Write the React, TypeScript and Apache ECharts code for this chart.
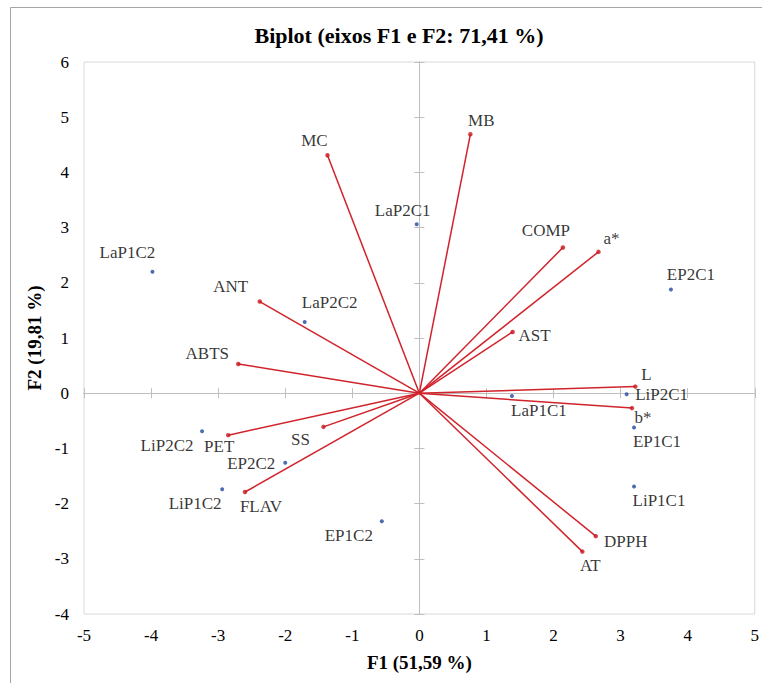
import React, { useEffect, useRef } from "react";
import * as echarts from "echarts";

// Observations (blue points)
const obsNames = ["LaP1C2", "LaP2C2", "LaP2C1", "EP2C1", "LaP1C1", "LiP2C1", "EP1C1", "LiP1C1", "LiP2C2", "EP2C2", "LiP1C2", "EP1C2"];
const obsF1 = [-3.98, -1.71, -0.04, 3.75, 1.38, 3.09, 3.2, 3.2, -3.24, -2.0, -2.94, -0.56];
const obsF2 = [2.2, 1.29, 3.06, 1.88, -0.05, -0.02, -0.62, -1.69, -0.69, -1.26, -1.74, -2.32];

// Variables (red vectors)
const varNames = ["MC", "ANT", "MB", "COMP", "a*", "AST", "ABTS", "PET", "SS", "FLAV", "L", "b*", "DPPH", "AT"];
const varF1 = [-1.37, -2.38, 0.76, 2.14, 2.67, 1.39, -2.7, -2.85, -1.43, -2.6, 3.22, 3.17, 2.63, 2.43];
const varF2 = [4.31, 1.66, 4.69, 2.64, 2.56, 1.11, 0.53, -0.76, -0.61, -1.79, 0.12, -0.27, -2.59, -2.87];

// Axis settings
const xMin = -5, xMax = 5, yMin = -4, yMax = 6, tickStep = 1;

// Label offsets (pixels) relative to each point
const obsLabelOffsets: number[][] = [
  [-25, -19], [25, -19], [-14, -14], [20, -15], [27, 15], [35, 0],
  [23, 14], [25, 14], [-35, 14], [-34, 1], [-27, 14], [-33, 14],
];
const varLabelOffsets: number[][] = [
  [-13, -15], [-29, -15], [11, -14], [-17, -17], [13, -13], [22, 4],
  [-31, -10], [-9, 11], [-23, 13], [16, 14], [11, -12], [11, 9], [30, 5], [8, 14],
];

const SERIF = "Liberation Serif";

export default function App() {
  const ref = useRef<HTMLDivElement>(null);
  useEffect(() => {
    if (!ref.current) return;
    const chart = echarts.init(ref.current, null, { renderer: "svg" });
    const zeroColor = "#bfbfbf";
    const baseAxis = { type: "value", min: xMin, max: xMax, interval: tickStep };
    const baseYAxis = { type: "value", min: yMin, max: yMax, interval: tickStep };
    const zeroAxisX = (inside: boolean) => ({
      ...baseAxis,
      position: "bottom",
      axisLine: { show: true, onZero: true, lineStyle: { color: zeroColor, width: 1 } },
      axisTick: { show: true, inside, length: 5, lineStyle: { color: zeroColor } },
      axisLabel: { show: false },
      splitLine: { show: false },
    });
    const zeroAxisY = (inside: boolean) => ({
      ...baseYAxis,
      position: "left",
      axisLine: { show: true, onZero: true, lineStyle: { color: zeroColor, width: 1 } },
      axisTick: { show: true, inside, length: 5, lineStyle: { color: zeroColor } },
      axisLabel: { show: false },
      splitLine: { show: false },
    });
    const labelStyle = {
      show: true,
      position: "inside",
      formatter: "{b}",
      fontFamily: SERIF,
      fontSize: 17,
      color: "#000",
      align: "center",
      verticalAlign: "middle",
    };
    const option: any = {
      animation: false,
      backgroundColor: "#ffffff",
      title: {
        text: "Biplot (eixos F1 e F2: 71,41 %)",
        left: 394,
        textAlign: "center",
        top: 19,
        textStyle: { fontFamily: SERIF, fontWeight: "bold", fontSize: 22, color: "#000" },
      },
      graphic: [
        {
          type: "rect",
          shape: { x: 10.5, y: 7.5, width: 1000, height: 1000 },
          style: { fill: "none", stroke: "#a6a6a6", lineWidth: 1 },
          silent: true,
        },
      ],
      grid: {
        left: 84,
        right: 5,
        top: 62,
        bottom: 69,
        show: true,
        borderColor: "#d9d9d9",
        borderWidth: 1,
        containLabel: false,
      },
      xAxis: [
        {
          ...baseAxis,
          position: "bottom",
          axisLine: { show: false, onZero: false },
          axisTick: { show: false },
          splitLine: { show: false },
          axisLabel: { margin: 13, fontFamily: SERIF, fontSize: 17, color: "#000" },
          name: "F1 (51,59 %)",
          nameLocation: "middle",
          nameGap: 39,
          nameTextStyle: { fontFamily: SERIF, fontWeight: "bold", fontSize: 19, color: "#000" },
        },
        zeroAxisX(true),
        zeroAxisX(false),
      ],
      yAxis: [
        {
          ...baseYAxis,
          position: "left",
          axisLine: { show: false, onZero: false },
          axisTick: { show: false },
          splitLine: { show: false },
          axisLabel: { margin: 15, fontFamily: SERIF, fontSize: 17, color: "#000" },
          name: "F2 (19,81 %)",
          nameLocation: "middle",
          nameGap: 35,
          nameTextStyle: { fontFamily: SERIF, fontWeight: "bold", fontSize: 19, color: "#000" },
        },
        zeroAxisY(true),
        zeroAxisY(false),
      ],
      series: [
        {
          type: "lines",
          coordinateSystem: "cartesian2d",
          xAxisIndex: 0,
          yAxisIndex: 0,
          silent: true,
          lineStyle: { color: "#d0232b", width: 1.5, opacity: 1 },
          data: varNames.map((n, i) => ({ name: n, coords: [[0, 0], [varF1[i], varF2[i]]] })),
        },
        {
          type: "scatter",
          xAxisIndex: 0,
          yAxisIndex: 0,
          symbol: "circle",
          symbolSize: 4.5,
          itemStyle: { color: "#c8141c" },
          label: labelStyle,
          data: varNames.map((n, i) => ({
            name: n,
            value: [varF1[i], varF2[i]],
            label: { offset: varLabelOffsets[i] },
          })),
        },
        {
          type: "scatter",
          xAxisIndex: 0,
          yAxisIndex: 0,
          symbol: "circle",
          symbolSize: 4,
          itemStyle: { color: "#2148a0" },
          label: labelStyle,
          data: obsNames.map((n, i) => ({
            name: n,
            value: [obsF1[i], obsF2[i]],
            label: { offset: obsLabelOffsets[i] },
          })),
        },
      ],
    };
    chart.setOption(option);
    return () => chart.dispose();
  }, []);
  return (
    <div
      ref={ref}
      style={{ position: "absolute", left: 0, top: 0, width: 762, height: 683, background: "#fff" }}
    />
  );
}
